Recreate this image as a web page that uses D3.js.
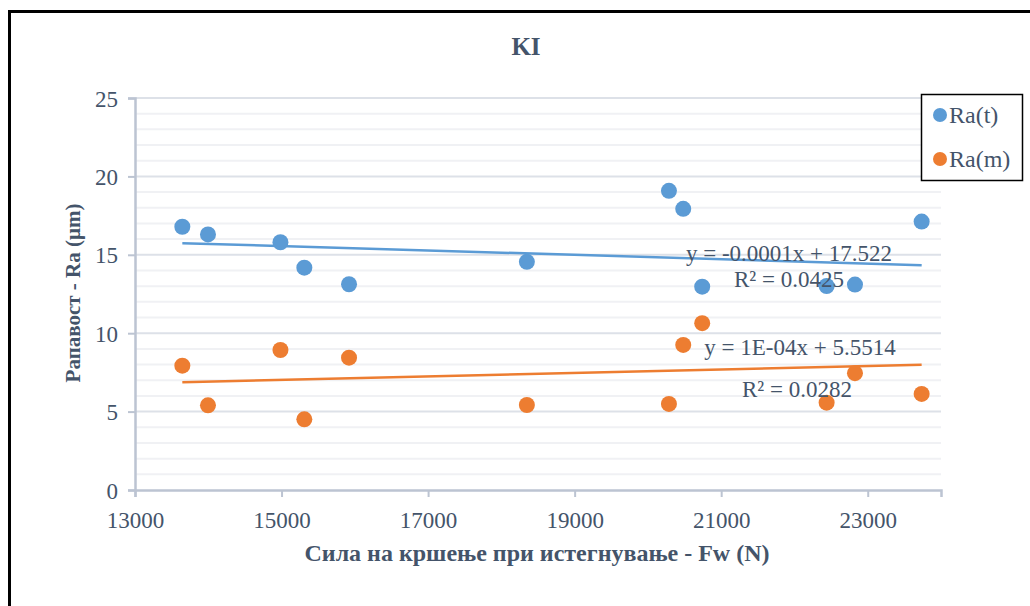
<!DOCTYPE html>
<html>
<head>
<meta charset="utf-8">
<script src="https://cdnjs.cloudflare.com/ajax/libs/d3/7.8.5/d3.min.js"></script>
<style>
  body { margin: 0; background: #fff; }
  text { font-family: "Liberation Serif", "Times New Roman", serif; fill: #44546a; }
</style>
</head>
<body>
<div id="chart"></div>
<script>
// force values (N)
const fw = [13646, 13996, 14985, 15311, 15921, 18348, 20287, 20482, 20741, 22439, 22826, 23736];
// Ra(t) and Ra(m) in μm
const raT = [16.79, 16.3, 15.8, 14.18, 13.12, 14.55, 19.08, 17.93, 12.97, 13.01, 13.1, 17.12];
const raM = [7.93, 5.4, 8.93, 4.51, 8.44, 5.42, 5.49, 9.25, 10.64, 5.57, 7.45, 6.13];

// linear trendlines [slope, intercept]
const trendT = [-0.000139, 17.64];
const trendM = [0.00011, 5.37];

const xTicks = [13000, 15000, 17000, 19000, 21000, 23000];
const yTicks = [0, 5, 10, 15, 20, 25];
const seriesNames = ['Ra(t)', 'Ra(m)'];
const colours = ['#5b9bd5', '#ed7d31'];
const eqLabels = [
  ['y = -0.0001x + 17.522', 'R² = 0.0425'],
  ['y = 1E-04x + 5.5514', 'R² = 0.0282'],
];

const width = 1030;
const height = 606;
const margin = { left: 135, right: 89, top: 98, bottom: 116 };

const svg = d3.select('#chart').append('svg')
  .attr('width', width)
  .attr('height', height);

// outer frame (only left and top edges are visible in the crop)
svg.append('path')
  .attr('d', `M9.5,${height} L9.5,11.5 L${width},11.5`)
  .attr('fill', 'none')
  .attr('stroke', '#000')
  .attr('stroke-width', 3);

const x = d3.scaleLinear().domain([13000, 24000]).range([margin.left, width - margin.right]);
const y = d3.scaleLinear().domain([0, 25]).range([height - margin.bottom, margin.top]);

// minor gridlines
svg.append('g')
  .selectAll('line')
  .data(d3.range(1, 26).filter((v) => v % 5 !== 0))
  .join('line')
  .attr('x1', x(13000))
  .attr('x2', x(24000))
  .attr('y1', (d) => y(d))
  .attr('y2', (d) => y(d))
  .attr('stroke', '#f0f1f4')
  .attr('stroke-width', 2);

// major gridlines
svg.append('g')
  .selectAll('line')
  .data(yTicks.filter((v) => v > 0))
  .join('line')
  .attr('x1', x(13000))
  .attr('x2', x(24000))
  .attr('y1', (d) => y(d))
  .attr('y2', (d) => y(d))
  .attr('stroke', '#dde1e8')
  .attr('stroke-width', 2);

// axes
const yAxis = svg.append('g')
  .attr('transform', `translate(${x(13000)},0)`)
  .call(d3.axisLeft(y).tickValues(yTicks).tickSize(7).tickPadding(10));

const xAxis = svg.append('g')
  .attr('transform', `translate(0,${y(0)})`)
  .call(d3.axisBottom(x).tickValues(xTicks).tickSize(7).tickPadding(11).tickFormat(d3.format('d')));

[yAxis, xAxis].forEach((ax) => {
  ax.select('.domain').attr('stroke', '#bcc4d2').attr('stroke-width', 2.5);
  ax.selectAll('.tick line').attr('stroke', '#bcc4d2').attr('stroke-width', 2);
  ax.selectAll('.tick text')
    .attr('fill', '#44546a')
    .style('font-family', '"Liberation Serif", serif')
    .style('font-size', '23px');
});
yAxis.selectAll('.tick text').attr('dy', '0.35em');
xAxis.selectAll('.tick text').attr('dy', '0.85em');

// trendlines
[trendT, trendM].forEach((t, i) => {
  const x0 = d3.min(fw);
  const x1 = d3.max(fw);
  svg.append('line')
    .attr('x1', x(x0))
    .attr('x2', x(x1))
    .attr('y1', y(t[0] * x0 + t[1]))
    .attr('y2', y(t[0] * x1 + t[1]))
    .attr('stroke', colours[i])
    .attr('stroke-width', 2.5);
});

// points
[raT, raM].forEach((vals, i) => {
  svg.append('g')
    .selectAll('circle')
    .data(vals)
    .join('circle')
    .attr('cx', (d, j) => x(fw[j]))
    .attr('cy', (d) => y(d))
    .attr('r', 8)
    .attr('fill', colours[i]);
});

// trendline equations
const eqPos = [
  [[789, 253], [789, 279]],
  [[800, 347], [797, 389]],
];
eqLabels.forEach((pair, i) => {
  pair.forEach((txt, j) => {
    svg.append('text')
      .attr('x', eqPos[i][j][0])
      .attr('y', eqPos[i][j][1])
      .attr('dy', '0.35em')
      .attr('text-anchor', 'middle')
      .style('font-size', '23px')
      .text(txt);
  });
});

// title
svg.append('text')
  .attr('x', 526)
  .attr('y', 46)
  .attr('dy', '0.35em')
  .attr('text-anchor', 'middle')
  .style('font-size', '25px')
  .style('font-weight', 'bold')
  .text('KI');

// axis titles
svg.append('text')
  .attr('x', 537)
  .attr('y', 553)
  .attr('dy', '0.35em')
  .attr('text-anchor', 'middle')
  .style('font-size', '24px')
  .style('font-weight', 'bold')
  .text('Сила на кршење при истегнување - Fw (N)');

svg.append('text')
  .attr('transform', 'translate(73,293) rotate(-90)')
  .attr('dy', '0.35em')
  .attr('text-anchor', 'middle')
  .style('font-size', '21px')
  .style('font-weight', 'bold')
  .text('Рапавост - Ra (μm)');

// legend
const legend = svg.append('g');
legend.append('rect')
  .attr('x', 921.5)
  .attr('y', 94.5)
  .attr('width', 101)
  .attr('height', 86)
  .attr('fill', '#fff')
  .attr('stroke', '#000')
  .attr('stroke-width', 1.5);

seriesNames.forEach((name, i) => {
  const ly = 115 + i * 44;
  legend.append('circle')
    .attr('cx', 940)
    .attr('cy', ly)
    .attr('r', 7)
    .attr('fill', colours[i]);
  legend.append('text')
    .attr('x', 949)
    .attr('y', ly)
    .attr('dy', '0.35em')
    .style('font-size', '24px')
    .text(name);
});
</script>
</body>
</html>
